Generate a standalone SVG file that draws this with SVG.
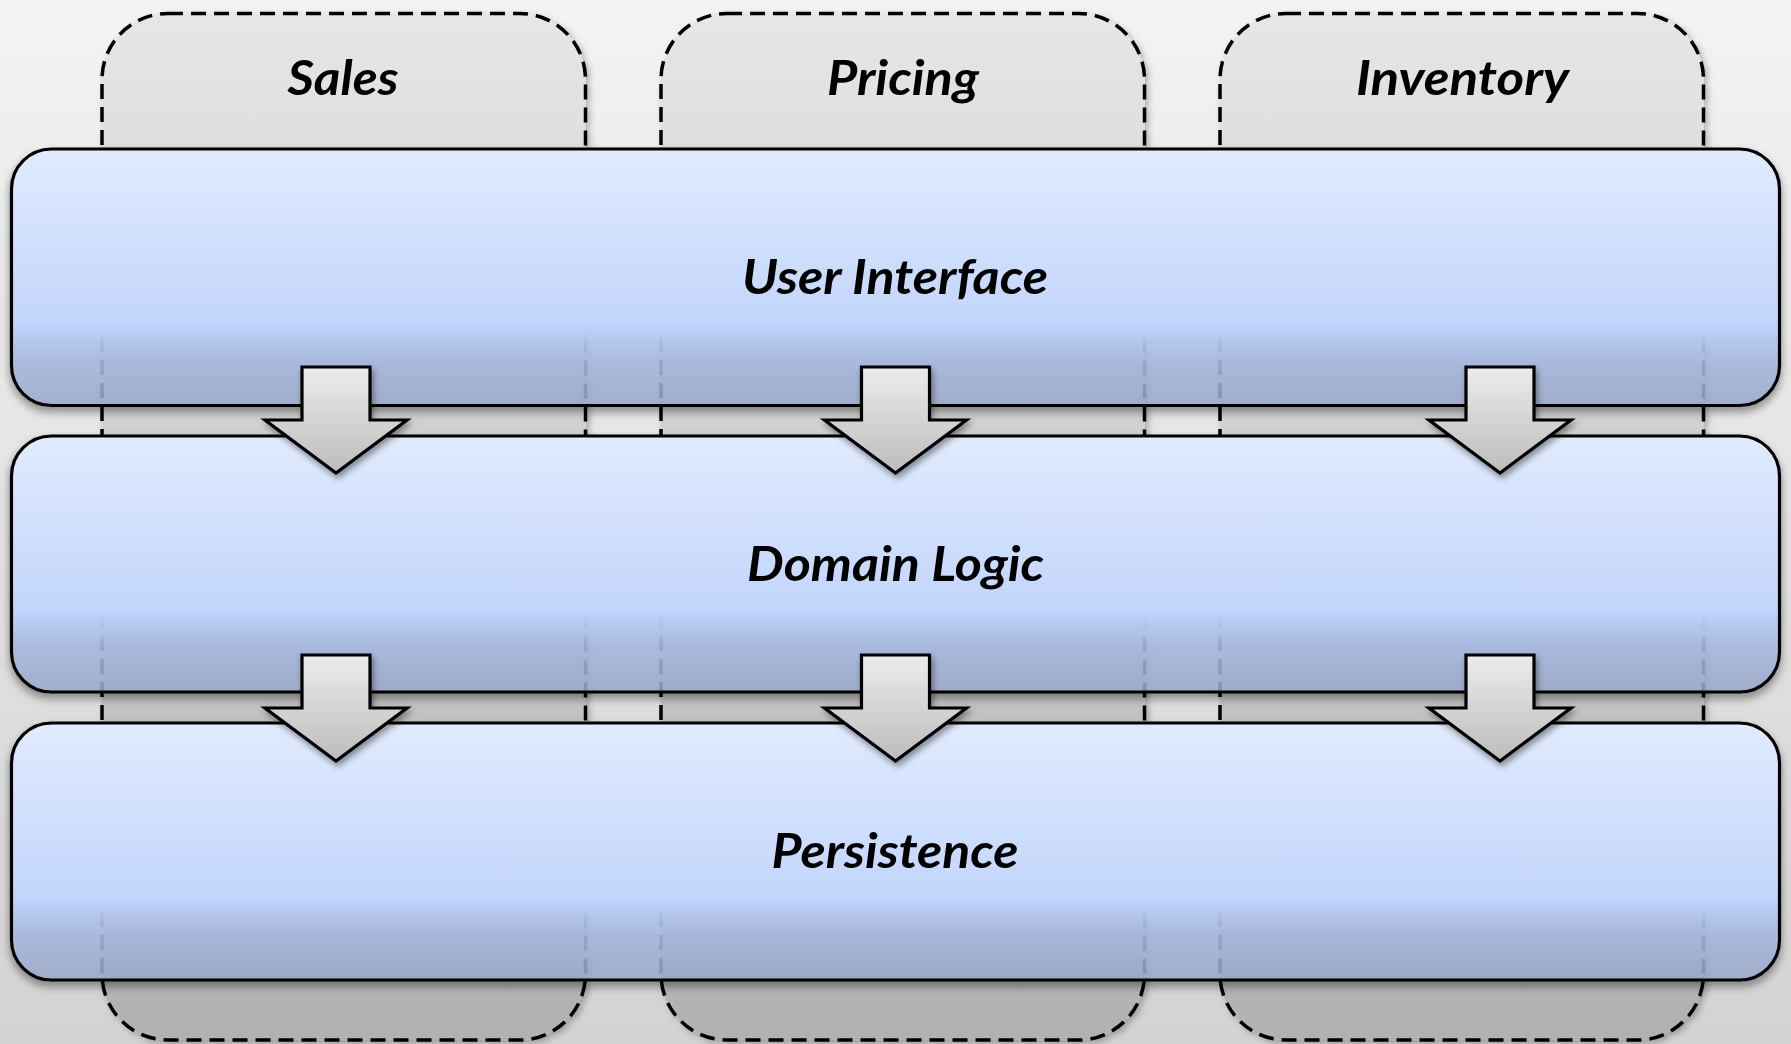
<svg xmlns="http://www.w3.org/2000/svg" width="1791" height="1044" viewBox="0 0 1791 1044">
<defs>
  <linearGradient id="bg" x1="0" y1="0" x2="0" y2="1">
    <stop offset="0" stop-color="#f3f3f3"/>
    <stop offset="1" stop-color="#d3d3d3"/>
  </linearGradient>
  <linearGradient id="colFill" gradientUnits="userSpaceOnUse" x1="0" y1="14" x2="0" y2="1040">
    <stop offset="0" stop-color="#e6e6e6"/>
    <stop offset="1" stop-color="#b1b1b1"/>
  </linearGradient>
  <linearGradient id="layerFill" x1="0" y1="0" x2="0" y2="1">
    <stop offset="0" stop-color="#e1ebfd" stop-opacity="1"/>
    <stop offset="0.68" stop-color="#c2d5fc" stop-opacity="1"/>
    <stop offset="0.82" stop-color="#abbde7" stop-opacity="0.85"/>
    <stop offset="1" stop-color="#9eaed0" stop-opacity="0.78"/>
  </linearGradient>
  <linearGradient id="arrowFill" x1="0" y1="0" x2="0" y2="1">
    <stop offset="0" stop-color="#ececec"/>
    <stop offset="1" stop-color="#bcbcbc"/>
  </linearGradient>
  <filter id="shadow" x="-5%" y="-10%" width="110%" height="125%">
    <feDropShadow dx="0" dy="5" stdDeviation="4" flood-color="#000" flood-opacity="0.45"/>
  </filter>
  <filter id="ashadow" x="-20%" y="-20%" width="140%" height="140%">
    <feDropShadow dx="2" dy="4" stdDeviation="3" flood-color="#000" flood-opacity="0.4"/>
  </filter>
  <filter id="cshadow" x="-5%" y="-5%" width="110%" height="110%">
    <feDropShadow dx="3" dy="3" stdDeviation="3" flood-color="#000" flood-opacity="0.25"/>
  </filter>
</defs>
<style>
  .col { fill: url(#colFill); stroke: #000; stroke-width: 3.5; stroke-dasharray: 15 8; filter: url(#cshadow); }
  .layer { fill: url(#layerFill); stroke: #000; stroke-width: 3.2; filter: url(#shadow); }
  .arrow { fill: url(#arrowFill); stroke: #000; stroke-width: 3.2; stroke-linejoin: miter; filter: url(#ashadow); }
  .lbl { font-family: Lato, "Open Sans", "DejaVu Sans", sans-serif; font-weight: bold; font-style: italic; font-size: 47px; fill: #000; text-anchor: middle; }
</style>
<rect x="0" y="0" width="1791" height="1044" fill="url(#bg)"/>

<g id="col-sales">
  <rect class="col" x="102" y="13.5" width="483.5" height="1026.5" rx="66" ry="66"/>
  <text class="lbl" x="343" y="95" textLength="111" lengthAdjust="spacingAndGlyphs">Sales</text>
</g>
<g id="col-pricing">
  <rect class="col" x="661" y="13.5" width="483.5" height="1026.5" rx="66" ry="66"/>
  <text class="lbl" x="903" y="95" textLength="152" lengthAdjust="spacingAndGlyphs">Pricing</text>
</g>
<g id="col-inventory">
  <rect class="col" x="1220" y="13.5" width="483.5" height="1026.5" rx="66" ry="66"/>
  <text class="lbl" x="1462.5" y="95" textLength="213" lengthAdjust="spacingAndGlyphs">Inventory</text>
</g>

<g id="layer-ui">
  <rect class="layer" x="11.5" y="149" width="1768" height="256.5" rx="40" ry="40"/>
  <text class="lbl" x="895" y="294" textLength="306" lengthAdjust="spacingAndGlyphs">User Interface</text>
</g>
<g id="layer-domain">
  <rect class="layer" x="11.5" y="436" width="1768" height="256" rx="40" ry="40"/>
  <text class="lbl" x="895.5" y="581" textLength="297" lengthAdjust="spacingAndGlyphs">Domain Logic</text>
</g>
<g id="layer-persistence">
  <rect class="layer" x="11.5" y="723" width="1768" height="257" rx="40" ry="40"/>
  <text class="lbl" x="895" y="868" textLength="247" lengthAdjust="spacingAndGlyphs">Persistence</text>
</g>

<g id="connectors">
  <path class="arrow" d="M302,367 H370 V420 H407 L336,473 L265,420 H302 Z"/>
  <path class="arrow" d="M861.5,367 H929.5 V420 H966.5 L895.5,473 L824.5,420 H861.5 Z"/>
  <path class="arrow" d="M1466,367 H1534 V420 H1571 L1500,473 L1429,420 H1466 Z"/>
  <path class="arrow" d="M302,655 H370 V708 H407 L336,761 L265,708 H302 Z"/>
  <path class="arrow" d="M861.5,655 H929.5 V708 H966.5 L895.5,761 L824.5,708 H861.5 Z"/>
  <path class="arrow" d="M1466,655 H1534 V708 H1571 L1500,761 L1429,708 H1466 Z"/>
</g>
</svg>
